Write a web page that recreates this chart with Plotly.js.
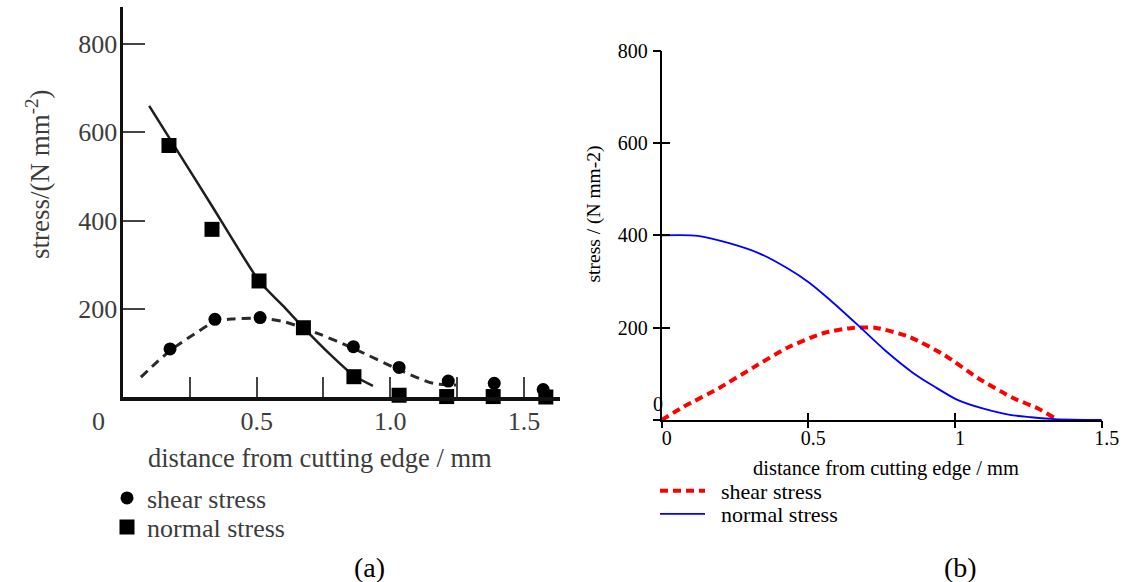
<!DOCTYPE html>
<html>
<head>
<meta charset="utf-8">
<script src="https://cdn.plot.ly/plotly-3.0.1.min.js"></script>
<style>html,body{margin:0;padding:0;background:#fff;}#chart{width:1123px;height:582px;}</style>
</head>
<body>
<div id="chart"></div>
<script>
// ---------- Panel (a): measured data ----------
const aShearX = [0.176, 0.344, 0.513, 0.862, 1.033, 1.217, 1.389, 1.572];
const aShearY = [109, 176, 180, 114, 67, 36, 31, 17];
const aNormalX = [0.172, 0.333, 0.509, 0.675, 0.864, 1.033, 1.211, 1.385, 1.582];
const aNormalY = [570, 380, 263, 157, 46, 4, 1, 1, 0];
// fitted curves drawn through the points in (a)
const aShearFitX = [0.067, 0.176, 0.263, 0.344, 0.413, 0.513, 0.600, 0.725, 0.862, 1.036, 1.160, 1.248];
const aShearFitY = [45, 105, 141, 171, 177, 178, 171, 145, 110, 61, 31, 27];
const aNormalFitX = [0.098, 0.213, 0.333, 0.509, 0.606, 0.677, 0.774, 0.864, 0.935];
const aNormalFitY = [660, 549, 433, 263, 202, 156, 97, 48, 25];
const aXTickVals = [0.5, 1.0, 1.5];
const aXTickText = ['0.5', '1.0', '1.5'];
const aXMinorStep = 0.25;
const aYTickVals = [200, 400, 600, 800];
const aYTickText = ['200', '400', '600', '800'];

// ---------- Panel (b): model curves ----------
const bShearX = [0, 0.076, 0.195, 0.313, 0.43, 0.55, 0.644, 0.727, 0.845, 0.963, 1.08, 1.2, 1.283, 1.34, 1.35];
const bShearY = [0, 29, 69, 114, 157, 188, 199, 200, 180, 141, 90, 47, 25, 4, 0];
const bNormalX = [0, 0.124, 0.23, 0.336, 0.43, 0.502, 0.574, 0.668, 0.763, 0.857, 0.928, 1.01, 1.094, 1.187, 1.26, 1.34, 1.5];
const bNormalY = [400, 399, 383, 360, 328, 298, 260, 206, 150, 102, 73, 43, 25, 11, 6, 2, 0];
const bXTickVals = [0, 0.5, 1, 1.5];
const bXTickText = ['0', '0.5', '1', '1.5'];
const bYTickVals = [200, 400, 600, 800];
const bYTickText = ['200', '400', '600', '800'];
const bYOuterTickVals = [0, 200, 400, 600, 800];

const W = 1123, H = 582;
const px = x => x / W;
const py = y => 1 - y / H;
const SERIF = 'Liberation Serif, Times New Roman, serif';
const GREY = '#3c3c3c';
const SP = '\u2002';

const traces = [
  // (a) fitted lines
  {x: aShearFitX, y: aShearFitY, xaxis: 'x', yaxis: 'y', mode: 'lines', showlegend: false,
   line: {color: '#2a2a2a', width: 3, dash: '9px,6px', shape: 'spline', smoothing: 0.8}, hoverinfo: 'skip'},
  {x: aNormalFitX, y: aNormalFitY, xaxis: 'x', yaxis: 'y', mode: 'lines', showlegend: false,
   line: {color: '#1e1e1e', width: 2.5, shape: 'spline', smoothing: 0.5}, hoverinfo: 'skip'},
  // (a) data points
  {x: aShearX, y: aShearY, xaxis: 'x', yaxis: 'y', mode: 'markers', name: 'shear stress', legend: 'legend',
   marker: {symbol: 'circle', size: 13, color: '#000'}, cliponaxis: false},
  {x: aNormalX, y: aNormalY, xaxis: 'x', yaxis: 'y', mode: 'markers', name: 'normal stress', legend: 'legend2',
   marker: {symbol: 'square', size: 15, color: '#000'}, cliponaxis: false},
  // (b) curves
  {x: bShearX, y: bShearY, xaxis: 'x2', yaxis: 'y2', mode: 'lines', name: SP + 'shear stress', legend: 'legend3',
   line: {color: '#ff0000', width: 4, dash: '8px,5px', shape: 'spline', smoothing: 0.6}, cliponaxis: false},
  {x: bNormalX, y: bNormalY, xaxis: 'x2', yaxis: 'y2', mode: 'lines', name: SP + 'normal stress', legend: 'legend4',
   line: {color: '#0000ff', width: 1.8, shape: 'spline', smoothing: 0.8}, cliponaxis: false},
  // invisible trace to carry the outer half of the crossing ticks of (b)
  {x: [], y: [], xaxis: 'x3', yaxis: 'y3', mode: 'lines', showlegend: false, hoverinfo: 'skip'}
];

function leg(x, y, size, color, iw) {
  return {x: px(x), y: py(y), xanchor: 'left', yanchor: 'middle',
    bgcolor: 'rgba(0,0,0,0)', borderwidth: 0, itemwidth: iw,
    font: {family: SERIF, size: size, color: color}};
}
function ann(text, x, y, size, color, angle) {
  return {text: text, xref: 'paper', yref: 'paper', x: px(x), y: py(y), xanchor: 'center', yanchor: 'middle',
    textangle: angle || 0, showarrow: false, font: {family: SERIF, size: size, color: color}};
}

const layout = {
  width: W, height: H,
  margin: {l: 0, r: 0, t: 0, b: 0},
  paper_bgcolor: '#fff', plot_bgcolor: 'rgba(0,0,0,0)',
  showlegend: true,
  xaxis: {
    domain: [px(123), px(560)], range: [0, 1.635], anchor: 'y',
    showline: true, linewidth: 3.5, linecolor: '#111', zeroline: false, showgrid: false,
    ticks: 'inside', ticklen: 20, tickwidth: 2, tickcolor: '#444',
    tickvals: aXTickVals, ticktext: aXTickText, ticklabelstandoff: -2,
    minor: {tick0: 0, dtick: aXMinorStep, ticks: 'inside', ticklen: 20, tickwidth: 2, tickcolor: '#444', showgrid: false},
    tickfont: {family: SERIF, size: 26, color: GREY}
  },
  yaxis: {
    domain: [py(397), py(7)], range: [0, 884], anchor: 'x',
    showline: true, linewidth: 3.5, linecolor: '#111', zeroline: false, showgrid: false,
    ticks: 'inside', ticklen: 22, tickwidth: 2, tickcolor: '#444',
    tickvals: aYTickVals, ticktext: aYTickText, ticklabelstandoff: -3,
    tickfont: {family: SERIF, size: 26, color: GREY}
  },
  xaxis2: {
    domain: [px(661.7), px(1101.7)], range: [0, 1.5], anchor: 'y2',
    showline: true, linewidth: 2, linecolor: '#000', zeroline: false, showgrid: false,
    ticks: 'inside', ticklen: 7, tickwidth: 2, tickcolor: '#000',
    tickvals: bXTickVals, ticktext: bXTickText, ticklabelshift: 5, ticklabelstandoff: -1,
    tickfont: {family: SERIF, size: 20, color: '#000'}
  },
  yaxis2: {
    domain: [py(420), py(50.7)], range: [0, 800], anchor: 'x2',
    showline: true, linewidth: 2, linecolor: '#000', zeroline: false, showgrid: false,
    ticks: 'inside', ticklen: 8, tickwidth: 2, tickcolor: '#000',
    tickvals: bYTickVals, ticktext: bYTickText, ticklabelstandoff: 8,
    tickfont: {family: SERIF, size: 20, color: '#000'}
  },
  xaxis3: {
    overlaying: 'x2', anchor: 'y3', range: [0, 1.5],
    showline: false, zeroline: false, showgrid: false,
    ticks: 'outside', ticklen: 7, tickwidth: 2, tickcolor: '#000',
    tickvals: bXTickVals, showticklabels: false
  },
  yaxis3: {
    overlaying: 'y2', anchor: 'x3', range: [0, 800],
    showline: false, zeroline: false, showgrid: false,
    ticks: 'outside', ticklen: 8, tickwidth: 2, tickcolor: '#000',
    tickvals: bYOuterTickVals, showticklabels: false
  },
  legend: leg(107, 498, 26, GREY, 30),
  legend2: leg(107, 527, 26, GREY, 30),
  legend3: leg(655, 491, 22, '#000', 45),
  legend4: leg(655, 514, 22, '#000', 45),
  annotations: [
    ann('stress/(N mm<sup>-2</sup>)', 38, 174, 27, GREY, -90),
    ann('distance from cutting edge / mm', 320, 458, 26.5, GREY),
    ann('0', 98, 421, 26, GREY),
    ann('(a)', 369, 567, 28, '#000'),
    ann('stress / (N mm-2)', 593, 214.5, 19.5, '#000', -90),
    ann('distance from cutting edge / mm', 886, 468, 20.5, '#000'),
    ann('0', 658, 404, 20, '#000'),
    ann('(b)', 960, 567, 28, '#000')
  ]
};

Plotly.newPlot('chart', traces, layout, {staticPlot: true, displayModeBar: false});
</script>
</body>
</html>
